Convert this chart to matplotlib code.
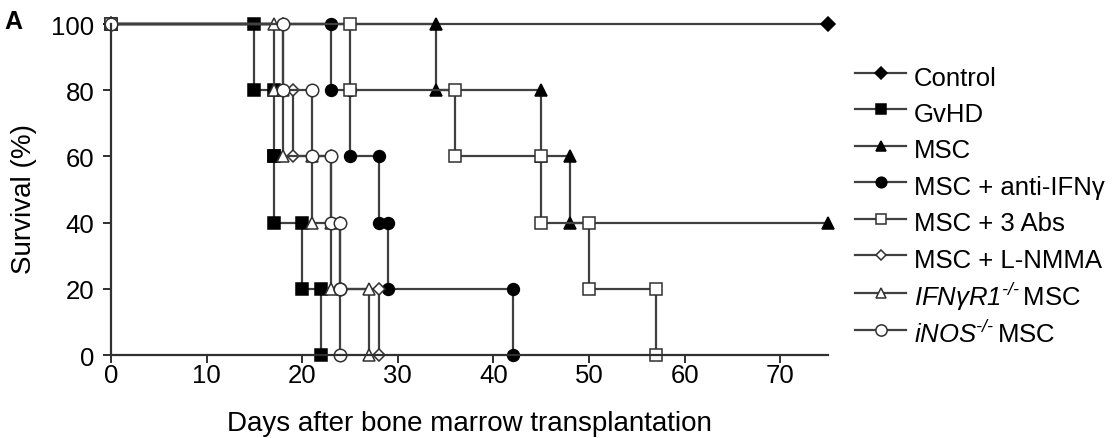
import matplotlib
matplotlib.use("Agg")
import matplotlib.pyplot as plt

plt.rcParams["font.family"] = ["Liberation Sans", "DejaVu Sans"]
plt.rcParams["mathtext.fontset"] = "custom"
plt.rcParams["mathtext.rm"] = "Liberation Sans:italic"
plt.rcParams["mathtext.it"] = "Liberation Sans:italic"
plt.rcParams["mathtext.default"] = "it"

# days of each death and survival (%) right after it
control_days = []
control_surv = []
gvhd_days = [15, 17, 17, 20, 22]
gvhd_surv = [80, 60, 40, 20, 0]
msc_days = [34, 45, 48]
msc_surv = [80, 60, 40]
anti_days = [23, 25, 28, 29, 42]
anti_surv = [80, 60, 40, 20, 0]
abs_days = [25, 36, 45, 50, 57]
abs_surv = [80, 60, 40, 20, 0]
lnmma_days = [18, 19, 23, 24, 28]
lnmma_surv = [80, 60, 40, 20, 0]
ifngr_days = [17, 18, 21, 23, 27]
ifngr_surv = [80, 60, 40, 20, 0]
inos_days = [18, 21, 23, 24, 24]
inos_surv = [80, 60, 40, 20, 0]
end_day = 75

labels = ["Control", "GvHD", "MSC", "MSC + anti-IFNγ", "MSC + 3 Abs",
          "MSC + L-NMMA", r"$\text{IFNγR1}^{\text{-/-}}\,$MSC",
          r"$\text{iNOS}^{\text{-/-}}\,$MSC"]

groups = [
    (control_days, control_surv, "D", "k", 7),
    (gvhd_days, gvhd_surv, "s", "k", 8),
    (msc_days, msc_surv, "^", "k", 8.5),
    (anti_days, anti_surv, "o", "k", 8.5),
    (abs_days, abs_surv, "s", "w", 8),
    (lnmma_days, lnmma_surv, "D", "w", 6),
    (ifngr_days, ifngr_surv, "^", "w", 8.5),
    (inos_days, inos_surv, "o", "w", 9),
]


def km_steps(days, surv):
    xs, ys = [0], [100]
    prev = 100
    for d, s in zip(days, surv):
        xs += [d, d]
        ys += [prev, s]
        prev = s
    if prev > 0:
        xs.append(end_day)
        ys.append(prev)
    return xs, ys


fig = plt.figure(figsize=(11.18, 4.39), dpi=100)
ax = fig.add_axes([0.0993, 0.189, 0.6413, 0.754])

line_col = "#404040"
for (days, surv, mk, face, ms), lab in zip(groups, labels):
    xs, ys = km_steps(days, surv)
    ax.plot(xs, ys, color=line_col, lw=1.6, marker=mk, ms=ms,
            mfc=face, mec="k" if face == "k" else "#303030", mew=1.1,
            label=lab, clip_on=False)

ax.set_xlim(0, 75)
ax.set_ylim(0, 100)
ax.set_xticks(range(0, 80, 10))
ax.set_yticks(range(0, 120, 20))
for s in ["top", "right"]:
    ax.spines[s].set_visible(False)
for s in ["left", "bottom"]:
    ax.spines[s].set_linewidth(1.6)
    ax.spines[s].set_color("#303030")
ax.tick_params(direction="out", length=6, width=1.4, labelsize=18.5,
               color="#303030")
ax.tick_params(axis="x", pad=0)
ax.tick_params(axis="y", pad=6)
ax.set_xlabel("Days after bone marrow transplantation", fontsize=20, labelpad=16)
ax.set_ylabel("Survival (%)", fontsize=20)
ax.yaxis.set_label_coords(-0.103, 0.474)

ax.legend(loc="upper left", bbox_to_anchor=(855 / 1118, 1 - 62 / 439),
          bbox_transform=fig.transFigure, frameon=False, fontsize=18.5,
          handlelength=2.0, handletextpad=0.3, labelspacing=0.25,
          handleheight=1.42, borderpad=0, borderaxespad=0, markerscale=0.9)

fig.text(13 / 1118, 1 - 22 / 439, "A", fontsize=18, fontweight="bold",
         ha="center", va="center")

fig.savefig("out.png", dpi=100)
